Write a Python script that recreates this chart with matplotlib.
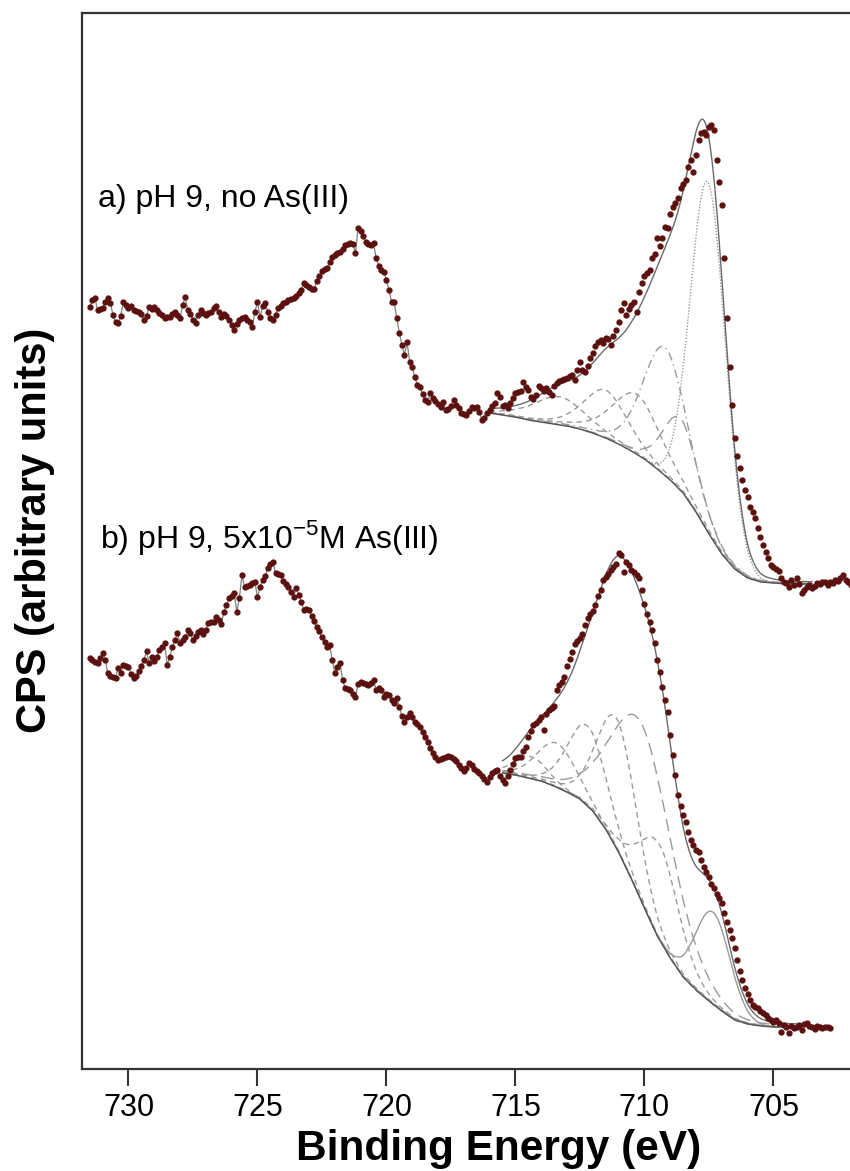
import numpy as np
import matplotlib.pyplot as plt

plt.rcParams['font.family'] = ['Liberation Sans', 'DejaVu Sans']
plt.rcParams['mathtext.fontset'] = 'custom'
plt.rcParams['mathtext.rm'] = 'Liberation Sans'

# binding energy grid of both scans (0.1 eV steps, high to low)
energy_a = np.round(731.5 - 0.1 * np.arange(296), 1)
energy_b = np.round(731.5 - 0.1 * np.arange(288), 1)

# a) pH 9, no As(III) -- counts, offset spectrum
counts_a = [
    762, 769, 771, 759, 760, 761, 767, 771, 766, 754, 747, 746, 753, 767, 764, 761,
    763, 759, 758, 757, 755, 749, 753, 762, 760, 762, 759, 756, 754, 751, 752, 752,
    755, 757, 754, 751, 764, 772, 759, 755, 749, 746, 754, 759, 756, 754, 756, 757,
    761, 763, 757, 752, 755, 753, 749, 744, 739, 745, 749, 751, 752, 749, 747, 742,
    757, 767, 752, 763, 766, 757, 751, 749, 754, 761, 763, 766, 767, 769, 770, 771,
    773, 776, 779, 786, 784, 782, 780, 780, 788, 793, 798, 800, 801, 807, 812, 814,
    816, 817, 820, 824, 825, 826, 825, 816, 841, 838, 833, 827, 825, 824, 826, 811,
    803, 799, 797, 789, 779, 767, 767, 751, 736, 724, 714, 727, 707, 702, 692, 684,
    682, 675, 669, 667, 676, 671, 668, 665, 662, 667, 659, 660, 663, 669, 664, 661,
    656, 655, 654, 658, 662, 661, 662, 657, 649, 651, 656, 659, 663, 666, 676, 672,
    663, 664, 661, 666, 671, 676, 677, 678, 687, 682, 679, 672, 670, 674, 683, 681,
    678, 681, 677, 674, 683, 686, 688, 689, 690, 691, 693, 694, 689, 699, 707, 699,
    697, 703, 711, 716, 723, 727, 729, 726, 731, 730, 724, 733, 739, 747, 759, 766,
    754, 760, 764, 767, 757, 777, 786, 793, 796, 799, 811, 815, 831, 823, 831, 842,
    841, 855, 862, 866, 871, 881, 885, 889, 902, 909, 897, 914, 929, 936, 937, 934,
    942, 944, 939, 909, 887, 864, 811, 751, 702, 664, 631, 613, 601, 589, 579, 572,
    562, 557, 551, 541, 532, 524, 517, 511, 504, 502, 500, 498, 491, 487, 486, 482,
    489, 484, 491, 485, 476, 479, 482, 484, 481, 483, 486, 485, 487, 487, 484, 487,
    486, 489, 488, 491, 494, 489, 487, 484,
]

# b) pH 9, 5x10^-5 M As(III)
counts_b = [
    411, 409, 407, 406, 411, 416, 409, 396, 393, 392, 391, 401, 396, 404, 403, 402,
    395, 391, 393, 398, 403, 409, 418, 406, 412, 408, 412, 419, 422, 426, 404, 412,
    422, 429, 436, 426, 429, 432, 439, 436, 429, 433, 437, 439, 435, 439, 446, 447,
    447, 452, 449, 445, 457, 464, 471, 473, 476, 457, 471, 494, 482, 483, 484, 486,
    487, 472, 482, 489, 493, 501, 505, 507, 496, 495, 494, 488, 485, 482, 477, 472,
    481, 474, 467, 459, 460, 459, 453, 448, 442, 438, 432, 427, 422, 424, 409, 396,
    402, 406, 389, 381, 380, 379, 375, 372, 385, 387, 386, 385, 384, 386, 389, 379,
    381, 379, 372, 375, 374, 369, 366, 371, 362, 353, 347, 352, 356, 352, 347, 345,
    342, 337, 332, 327, 321, 316, 312, 309, 310, 311, 312, 313, 312, 310, 308, 304,
    301, 298, 301, 306, 304, 300, 298, 296, 293, 290, 287, 292, 296, 298, 299, 293,
    289, 286, 293, 299, 305, 311, 312, 312, 318, 322, 332, 338, 344, 346, 349, 352,
    339, 355, 359, 361, 363, 379, 384, 387, 392, 403, 410, 417, 425, 428, 431, 435,
    444, 451, 455, 458, 464, 473, 479, 489, 492, 495, 499, 502, 505, 516, 514, 497,
    507, 504, 499, 497, 494, 491, 479, 465, 455, 447, 439, 426, 409, 397, 382, 369,
    357, 334, 314, 294, 274, 263, 254, 247, 237, 229, 224, 219, 217, 209, 202, 197,
    192, 185, 181, 175, 171, 166, 156, 147, 139, 131, 121, 109, 98, 89, 81, 75,
    69, 64, 62, 61, 58, 56, 54, 51, 49, 47, 49, 46, 37, 44, 42, 36,
    43, 41, 42, 44, 39, 45, 46, 43, 42, 40, 43, 42, 41, 42, 42, 41,
]

# Shirley-type background under each fit, sampled every 0.5 eV
bg_energy_a = np.arange(716.0, 703.4, -0.5)
bg_a = [656, 654, 652, 649, 647, 645, 643, 640, 636, 631, 625, 618, 610,
        600, 589, 576, 557, 535, 515, 500, 491, 487, 486, 485, 485, 485]
bg_energy_b = np.arange(715.5, 703.9, -0.5)
bg_b = [296, 294, 291, 288, 283, 277, 270, 258, 240, 217, 190, 161,
        133, 111, 92, 79, 68, 58, 49, 45, 43, 42, 42, 42]

# peak components: centre (eV), height, FWHM (eV), Lorentzian fraction, line style
center_a = [707.53, 709.2, 708.6, 710.3, 711.5, 713.3]
height_a = [350, 128, 72, 60, 48, 28]
fwhm_a = [1.6, 2.0, 1.6, 2.2, 2.0, 2.4]
mix_a = [0.0, 0.2, 0.2, 0.4, 0.4, 0.4]
style_a = [(0, (1, 1.2)), (0, (6, 3, 1, 3)), (0, (9, 5)), (0, (4, 3)), (0, (4, 3)), (0, (4, 3))]

center_b = [707.34, 709.4, 710.05, 711.06, 712.2, 713.4, 714.4]
height_b = [92, 95, 178, 130, 80, 44, 22]
fwhm_b = [1.6, 1.8, 2.8, 1.8, 1.8, 1.8, 1.5]
mix_b = [0.0, 0.2, 0.2, 0.2, 0.2, 0.2, 0.2]
style_b = ['-', (0, (4, 3)), (0, (9, 5)), (0, (4, 3)), (0, (4, 3)), (0, (4, 3)), (0, (4, 3))]


def peak(e, c, h, w, m):
    x = (e - c) / w
    return h * ((1 - m) * np.exp(-4 * np.log(2) * x ** 2) + m / (1 + 4 * x ** 2))


def draw_spectrum(ax, energy, counts, bg_e, bg, centers, heights, widths, mixes, styles):
    energy = np.asarray(energy, float)
    counts = np.asarray(counts, float)
    bg_e = np.asarray(bg_e, float)
    fine = np.linspace(bg_e[0], bg_e[-1], 600)
    bgf = np.interp(fine[::-1], bg_e[::-1], np.asarray(bg, float)[::-1])[::-1]
    total = bgf.copy()
    for c, h, w, m, ls in zip(centers, heights, widths, mixes, styles):
        comp = peak(fine, c, h, w, m)
        total += comp
        ax.plot(fine, bgf + comp, color='#9a9a9a', lw=1.0, ls=ls, zorder=2)
    ax.plot(fine, bgf, color='#555555', lw=1.0, zorder=3)
    ax.plot(fine, total, color='#6a6a6a', lw=1.0, zorder=3)
    # raw trace outside the fitted window
    hi = energy >= bg_e[0]
    lo = energy <= bg_e[-1]
    ax.plot(energy[hi], counts[hi], color='#808080', lw=0.9, zorder=3)
    ax.plot(energy[lo], counts[lo], color='#808080', lw=0.9, zorder=3)
    ax.plot(energy, counts, ls='none', marker='o', ms=3.5, mfc='#5c1010', mec='#5c1010',
            zorder=4)


fig = plt.figure(figsize=(8.5, 11.71), dpi=100)
ax = fig.add_axes([0.0965, 0.0871, 0.9035, 0.9018])

draw_spectrum(ax, energy_a, counts_a, bg_energy_a, bg_a,
              center_a, height_a, fwhm_a, mix_a, style_a)
draw_spectrum(ax, energy_b, counts_b, bg_energy_b, bg_b,
              center_b, height_b, fwhm_b, mix_b, style_b)

ax.set_xlim(731.8, 702.03)
ax.set_ylim(0, 1056)
ax.set_xticks([730, 725, 720, 715, 710, 705])
ax.set_yticks([])
ax.tick_params(axis='x', direction='out', length=12, width=1.5, pad=5, labelsize=22,
               color='#333333')
for side in ['left', 'top', 'bottom']:
    ax.spines[side].set_linewidth(1.6)
    ax.spines[side].set_color('#333333')
ax.spines['right'].set_visible(False)

ax.set_xlabel('Binding Energy (eV)', fontsize=30.5, fontweight='bold')
ax.xaxis.set_label_coords(0.543, -0.057)
ax.set_ylabel('CPS (arbitrary units)', fontsize=30, fontweight='bold')
ax.yaxis.set_label_coords(-0.035, 0.51)

ax.text(0.0208, 0.816, 'a) pH 9, no As(III)', transform=ax.transAxes, fontsize=23,
        va='baseline')
ax.text(0.0234, 0.493, r'b) pH 9, 5x10$^{\mathregular{-5}}$M As(III)', transform=ax.transAxes,
        fontsize=23, va='baseline')

fig.savefig('out.png', dpi=100)
